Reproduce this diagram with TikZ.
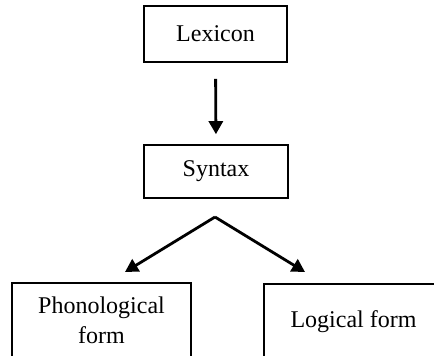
\documentclass[tikz,border=0pt]{standalone}
\usepackage{fontspec}
\setmainfont{Liberation Serif}
\usetikzlibrary{arrows.meta}
\begin{document}
\begin{tikzpicture}[x=1pt,y=-1pt,
  box/.style={draw=black, line width=1.6pt, rectangle, inner sep=0pt, align=center,
    font=\fontsize{24}{30}\selectfont},
  conn/.style={line width=2.8pt, -{Triangle[width=14pt,length=13pt]}}]
\useasboundingbox (0,0) rectangle (434,356);
\node[box, minimum width=143pt, minimum height=56pt] (lex) at (215.5,34) {Lexicon};
\node[box, minimum width=144pt, minimum height=53pt] (syn) at (216,171.5) {Syntax};
\node[box, minimum width=179pt, minimum height=74pt] (phon) at (101.5,320) {Phonological\\form};
\node[box, minimum width=179pt, minimum height=76pt] (log) at (353.5,322) {Logical form};
\coordinate (apex) at (215,217);
\coordinate (ltip) at (125,272);
\coordinate (rtip) at (305,272);
\draw[conn, shorten <=16pt, shorten >=10pt] (lex.south) -- (syn.north);
\draw[conn] (apex) -- (ltip);
\draw[conn] (apex) -- (rtip);
\end{tikzpicture}
\end{document}
